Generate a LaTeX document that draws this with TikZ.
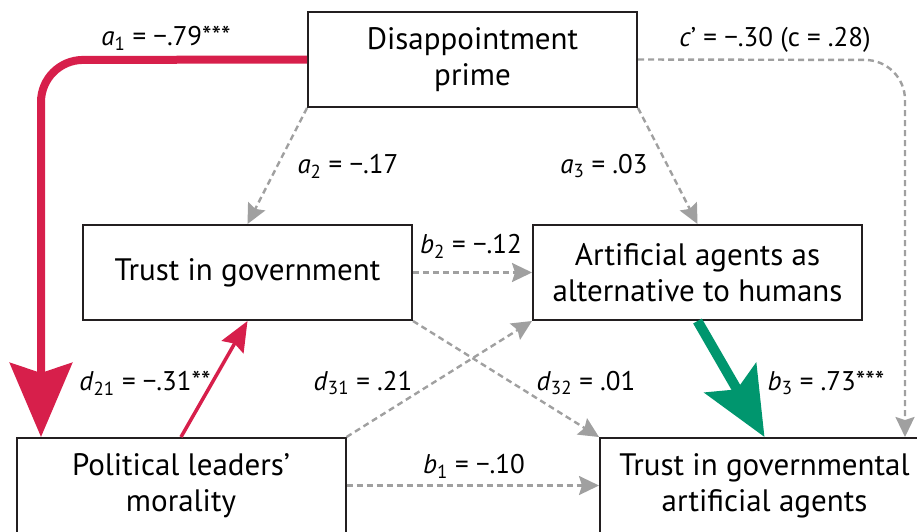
\documentclass[tikz,border=0pt]{standalone}
\usepackage{fontspec}
\setmainfont{PT Sans}
\usetikzlibrary{arrows.meta}
\definecolor{strong}{HTML}{D71F4B}
\definecolor{good}{HTML}{00966E}
\definecolor{weak}{HTML}{A0A0A0}
\definecolor{frame}{HTML}{231F20}
\newcommand{\coef}[2]{\textit{#1}\textsubscript{#2}}

\begin{document}
\begin{tikzpicture}[x=1pt,y=-1pt,
  var/.style={draw=frame,line width=2pt,minimum width=329pt,minimum height=95pt,
    inner sep=0pt,align=center,font=\fontsize{31}{36}\selectfont},
  est/.style={inner sep=0pt,font=\fontsize{27}{32}\selectfont},
  ns/.style={draw=weak,line width=2.4pt,dash pattern=on 6pt off 4pt,
    -{Stealth[length=20pt,width=19pt,inset=3pt]}},
]
  \useasboundingbox (0,0) rectangle (917,531);
  \node[var] (dp) at (472.5,59.5) {Disappointment\\prime};
  \node[var] (tg) at (247.5,272.5) {Trust in government};
  \node[var] (aa) at (697.5,272.5) {Artificial agents as\\alternative to humans};
  \node[var] (pl) at (181,485.5) {Political leaders’\\morality};
  \node[var] (tgaa) at (764.5,485.5) {Trust in governmental\\artificial agents};
  \coordinate (aturn) at (41,60);
  \coordinate (cturn) at (905,60);
  % paths
  \draw[strong,line width=8pt,rounded corners=42pt,
    -{Stealth[length=74pt,width=62pt,inset=10pt]}] (dp.west) -- (aturn) -- (aturn |- pl.north);
  \draw[ns,rounded corners=40pt] (dp.east) -- (cturn) -- (cturn |- tgaa.north);
  \draw[ns] (dp.south west) -- (tg.north);
  \draw[ns] (dp.south east) -- (aa.north);
  \draw[ns] (tg.east) -- (aa.west);
  \draw[ns] (tg.south east) -- (tgaa.north west);
  \draw[ns] (pl.north east) -- (aa.south west);
  \draw[ns] (pl.east) -- (tgaa.west);
  \draw[strong,line width=3.5pt,-{Stealth[length=30pt,width=25pt,inset=4pt]}] (pl.north) -- (tg.south);
  \draw[good,line width=10pt,-{Stealth[length=68pt,width=59pt,inset=13pt]}] (aa.south) -- (tgaa.north);
  % estimates
  \node[est] (ea1) at (166,38) {\coef{a}{1} = −.79***};
  \node[est] (ea2) at (348,166) {\coef{a}{2} = −.17};
  \node[est] (ea3) at (604,166) {\coef{a}{3} = .03};
  \node[est] (ec) at (775,40) {\textit{c}’ = −.30 (c = .28)};
  \node[est] (eb2) at (471,246) {\coef{b}{2} = −.12};
  \node[est] (ed21) at (145,383) {\coef{d}{21} = −.31**};
  \node[est] (ed31) at (363,383) {\coef{d}{31} = .21};
  \node[est] (ed32) at (586,383) {\coef{d}{32} = .01};
  \node[est] (eb3) at (826,383) {\coef{b}{3} = .73***};
  \node[est] (eb1) at (474,466) {\coef{b}{1} = −.10};
\end{tikzpicture}
\end{document}
